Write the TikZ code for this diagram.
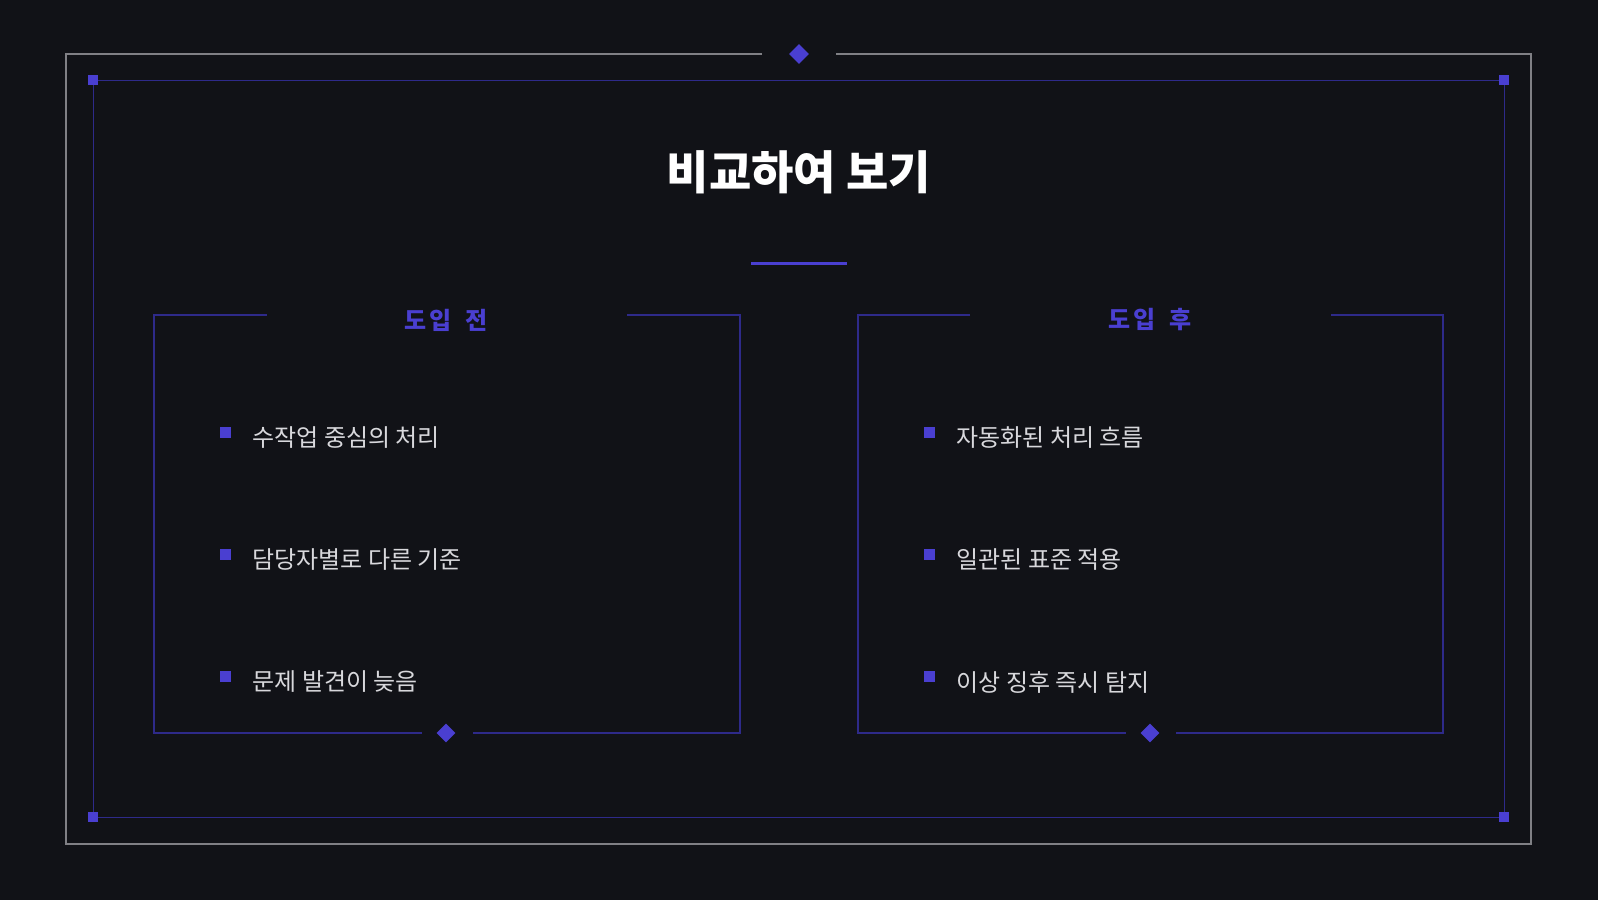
\documentclass[tikz,border=0pt]{standalone}
\usepackage{fontspec}
\usetikzlibrary{shapes.geometric}
\setmainfont{Noto Sans CJK KR}
\begin{document}
\begin{tikzpicture}[x=1pt,y=-1pt,
  acc/.style={fill=accent,draw=none},
  dia/.style={acc,shape=diamond,minimum size=20pt,inner sep=0pt},
  sq/.style={acc,minimum size=10pt,inner sep=0pt},
  bsq/.style={acc,minimum size=11pt,inner sep=0pt},
  item/.style={anchor=west,text=txt,font=\fontsize{24}{28}\selectfont},
  head/.style={text=accent,font=\fontsize{24}{28}\selectfont\bfseries},
  box/.style={draw=boxc,line width=1.3pt}]
\definecolor{bg}{HTML}{111217}
\definecolor{accent}{HTML}{4A3FD1}
\definecolor{boxc}{HTML}{2E2A8A}
\definecolor{gry}{HTML}{808085}
\definecolor{txt}{HTML}{D8D8DC}
\fill[bg] (0,0) rectangle (1598,900);
\useasboundingbox (0,0) rectangle (1598,900);
% outer gray frame
\draw[gry,line width=1.8pt] (762,54) -- (66,54) -- (66,844) -- (1531,844) -- (1531,54) -- (836,54);
\node[dia] (td) at (799,54) {};
% inner frame
\draw[boxc,line width=1pt] (93,80) rectangle (1504,817);
\foreach \p/\n in {{(93,80)}/c1,{(1504,80)}/c2,{(93,817)}/c3,{(1504,817)}/c4}
  \node[sq] (\n) at \p {};
\node[text=white,font=\fontsize{46}{52}\selectfont\bfseries] (title) at (799,172) {비교하여 보기};
\draw[accent,line width=3pt] (751,263) -- (847,263);
% left box
\draw[box] (267,315) -- (154,315) -- (154,733) -- (422,733);
\draw[box] (473,733) -- (740,733) -- (740,315) -- (627,315);
\node[dia,minimum size=19pt] (ld) at (446,733) {};
\node[head] (lh) at (446,320) {도\hspace{0.12em}입\hspace{0.55em}전};
% right box
\draw[box] (970,315) -- (858,315) -- (858,733) -- (1126,733);
\draw[box] (1176,733) -- (1443,733) -- (1443,315) -- (1331,315);
\node[dia,minimum size=19pt] (rd) at (1150,733) {};
\node[head] (rh) at (1150,320) {도\hspace{0.12em}입\hspace{0.55em}후};
% items
\foreach \y/\a/\b [count=\i] in {432/수작업 중심의 처리/자동화된 처리 흐름,554/담당자별로 다른 기준/일관된 표준 적용,676/문제 발견이 늦음/이상 징후 즉시 탐지}{
  \node[bsq] (lb\i) at (225,\y) {};
  \node[item] (lt\i) at (249,\y+6) {\a};
  \node[bsq] (rb\i) at (929,\y) {};
  \node[item] (rt\i) at (953,\y+6) {\b};
}
\end{tikzpicture}
\end{document}
